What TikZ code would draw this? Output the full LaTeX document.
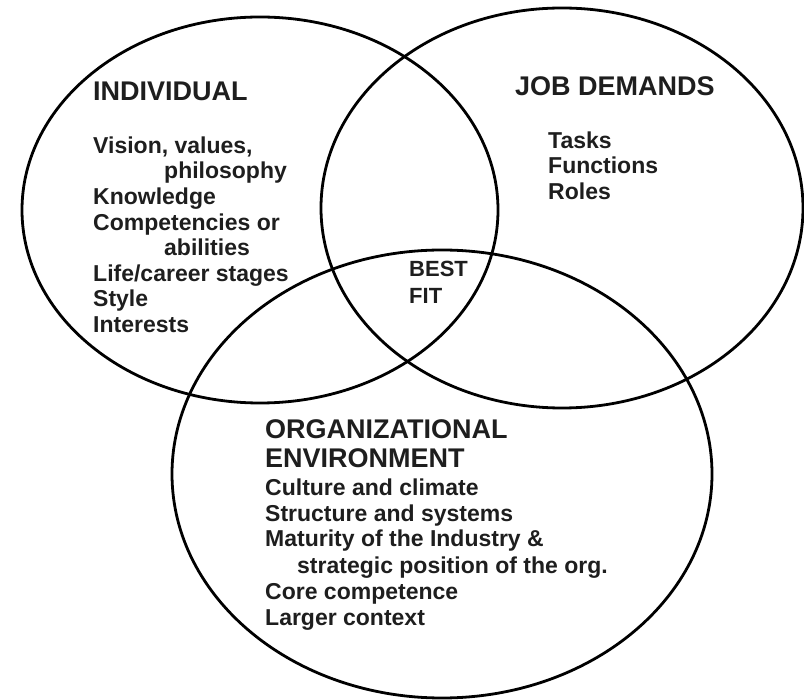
\documentclass[tikz,border=0pt]{standalone}
\usepackage{fontspec}
\setmainfont{Liberation Sans}
\definecolor{ink}{HTML}{1E1E1E}
\tikzset{
  ring/.style={draw=black, line width=2.8pt},
  head/.style={anchor=base west, inner sep=0pt, text=ink, font=\fontsize{27}{29}\selectfont\bfseries},
  item/.style={anchor=base west, inner sep=0pt, text=ink, font=\fontsize{23}{26}\selectfont\bfseries}
}
\begin{document}
\begin{tikzpicture}[x=1pt, y=-1pt]
\useasboundingbox (0,0) rectangle (804,700);

\draw[ring] (260,210) ellipse [x radius=238pt, y radius=193pt];
\draw[ring] (562,208) ellipse [x radius=241pt, y radius=200pt];
\draw[ring] (442,474) ellipse [x radius=270pt, y radius=224pt];

\node[head] (indhead) at (93,101) {INDIVIDUAL};
\node[item] (ind1) at (93,154) {Vision, values,};
\node[item] (ind2) at (164,179) {philosophy};
\node[item] (ind3) at (93,205) {Knowledge};
\node[item] (ind4) at (93,231) {Competencies or};
\node[item] (ind5) at (164,256) {abilities};
\node[item] (ind6) at (93,282) {Life/career stages};
\node[item] (ind7) at (93,307) {Style};
\node[item] (ind8) at (93,333) {Interests};

\node[head] (jobhead) at (515,96) {JOB DEMANDS};
\node[item] (job1) at (548,149) {Tasks};
\node[item] (job2) at (548,174) {Functions};
\node[item] (job3) at (548,200) {Roles};

\node[item, font=\fontsize{22}{24}\selectfont\bfseries] (fit1) at (409,277) {BEST};
\node[item, font=\fontsize{22}{24}\selectfont\bfseries] (fit2) at (409,304) {FIT};

\node[head] (orghead1) at (265,439) {ORGANIZATIONAL};
\node[head] (orghead2) at (265,468) {ENVIRONMENT};
\node[item] (org1) at (265,496) {Culture and climate};
\node[item] (org2) at (265,522) {Structure and systems};
\node[item] (org3) at (265,547) {Maturity of the Industry \&};
\node[item] (org4) at (297,573) {strategic position of the org.};
\node[item] (org5) at (265,599) {Core competence};
\node[item] (org6) at (265,625) {Larger context};
\end{tikzpicture}
\end{document}
